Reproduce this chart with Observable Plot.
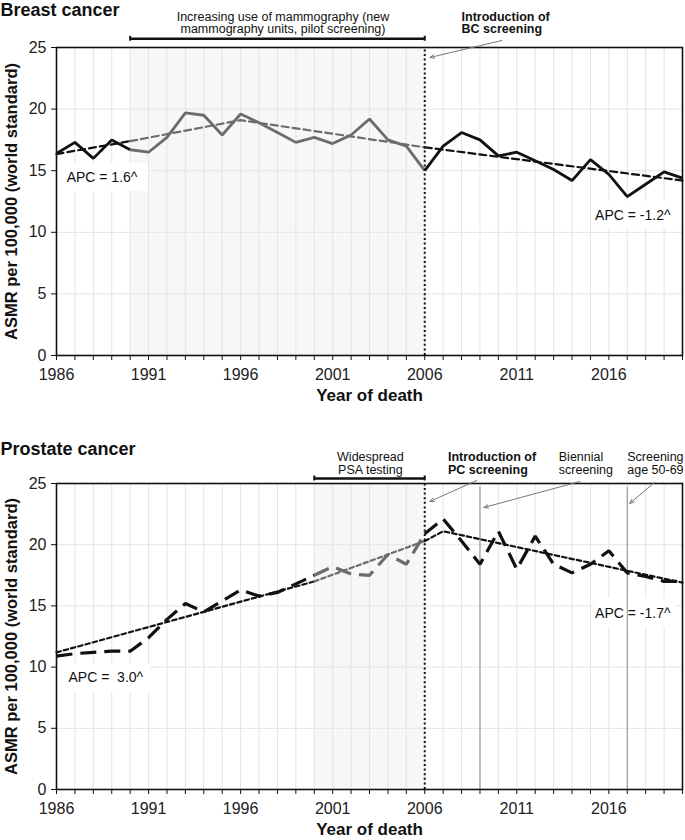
<!DOCTYPE html>
<html>
<head>
<meta charset="utf-8">
<script src="https://cdn.jsdelivr.net/npm/d3@7"></script>
<script src="https://cdn.jsdelivr.net/npm/@observablehq/plot@0.6"></script>
<style>
  html, body { margin: 0; padding: 0; background: #fff; }
  svg { display: block; }
</style>
</head>
<body>
<div id="chart"></div>
<script>
// ---------- data ----------
const years = [1986,1987,1988,1989,1990,1991,1992,1993,1994,1995,1996,1997,1998,1999,2000,
  2001,2002,2003,2004,2005,2006,2007,2008,2009,2010,2011,2012,2013,2014,2015,2016,2017,2018,2019,2020];

const breastASMR = [16.4,17.3,16.0,17.5,16.7,16.5,17.7,19.7,19.5,17.9,19.6,18.9,18.1,17.3,17.7,
  17.2,17.9,19.2,17.5,17.0,15.0,17.0,18.1,17.5,16.2,16.5,15.8,15.1,14.2,15.9,14.7,12.9,13.9,14.9,14.4];

const prostateASMR = [10.9,11.1,11.2,11.3,11.3,12.4,13.9,15.2,14.5,15.4,16.3,15.8,16.1,16.8,17.5,
  18.2,17.6,17.5,19.2,18.4,20.9,22.1,20.3,18.4,21.1,18.0,20.7,18.4,17.7,18.4,19.5,17.7,17.4,17.0,17.0];

const breastTrendYears = [1986, 1990, 1996, 2006, 2020];
const breastTrendValues = [16.35, 17.4, 19.1, 16.9, 14.2];
const prostateTrendYears = [1986, 2000, 2006, 2007, 2020];
const prostateTrendValues = [11.2, 17.0, 20.3, 21.1, 16.9];

const xTickLabels = [1986, 1991, 1996, 2001, 2006, 2011, 2016];
const yTicks = [0, 5, 10, 15, 20, 25];

const breastBand = [1990, 2006];
const prostateBand = [2000, 2006];

const breastTitle = "Breast cancer";
const prostateTitle = "Prostate cancer";
const yTitle = "ASMR per 100,000 (world standard)";
const xTitle = "Year of death";

const breastBandLabel = "Increasing use of mammography (new\nmammography units, pilot screening)";
const breastIntroLabel = "Introduction of\nBC screening";
const prostateBandLabel = "Widespread\nPSA testing";
const prostateIntroLabel = "Introduction of\nPC screening";
const prostateBiennialLabel = "Biennial\nscreening";
const prostateAgeLabel = "Screening\nage 50-69";
const breastAPC = ["APC = 1.6^", "APC = -1.2^"];
const prostateAPC = ["APC =  3.0^", "APC = -1.7^"];

// ---------- helpers ----------
const ink = "#111111";
const grey = "#6c6c6c";
const FONT = "'Liberation Sans', Arial, Helvetica, sans-serif";

function pts(xs, ys) { return xs.map((x, i) => ({year: x, value: ys[i]})); }
function between(arr, a, b) { return arr.filter(d => d.year >= a && d.year <= b); }

function chart(cfg) {
  const data = pts(years, cfg.values);
  const trend = pts(cfg.trendYears, cfg.trendValues);
  const [b0, b1] = cfg.band;
  const segs = [
    {a: 1986, b: b0, c: ink},
    {a: b0, b: b1, c: grey},
    {a: b1, b: 2020, c: ink}
  ];
  const marks = [
    Plot.rect([cfg.band], {x1: d => d[0], x2: d => d[1], y1: 0, y2: 25, fill: "#f7f7f7"}),
    Plot.gridX(years, {stroke: "#e4e4e4", strokeOpacity: 1, strokeWidth: 1}),
    Plot.gridY(yTicks, {stroke: "#e4e4e4", strokeOpacity: 1, strokeWidth: 1}),
    Plot.rect(cfg.boxes, {x1: "x1", x2: "x2", y1: "y1", y2: "y2", fill: "white"}),
    ...cfg.extraRules,
    Plot.ruleX([b1], {y1: 0, y2: 25, stroke: ink, strokeWidth: 2, strokeDasharray: "2,2.6"}),
  ];
  for (const s of segs) {
    marks.push(Plot.line(between(trend, s.a, s.b), {x: "year", y: "value", stroke: s.c,
      strokeWidth: 2.2, strokeDasharray: cfg.trendDash}));
  }
  for (const s of segs) {
    marks.push(Plot.line(between(data, s.a, s.b), {x: "year", y: "value", stroke: s.c,
      strokeWidth: cfg.lineWidth, strokeDasharray: cfg.lineDash, strokeLinejoin: "miter", strokeLinecap: "butt"}));
  }
  marks.push(
    Plot.frame({stroke: ink, strokeWidth: 1.6}),
    Plot.axisX({ticks: years, tickSize: 5, tickPadding: 8, stroke: ink,
      tickFormat: d => xTickLabels.includes(d) ? String(d) : "", fontSize: 16, fill: "#222", label: null}),
    Plot.axisY({ticks: yTicks, tickSize: 5, tickPadding: 5, stroke: ink, fontSize: 16, fill: "#222", label: null}),
    Plot.text([cfg.title], {frameAnchor: "top-left", dx: -56, dy: cfg.titleDy, textAnchor: "start",
      lineAnchor: "middle", fontWeight: "bold", fontSize: 18, fill: ink}),
    Plot.text([yTitle], {frameAnchor: "left", dx: -45, rotate: -90, textAnchor: "middle",
      lineAnchor: "middle", fontWeight: "bold", fontSize: 16.5, fill: ink}),
    Plot.text([xTitle], {frameAnchor: "bottom", dy: cfg.xTitleDy, textAnchor: "middle",
      lineAnchor: "middle", fontWeight: "bold", fontSize: 17, fill: ink}),
    // band bar
    Plot.ruleY([cfg.bar.y], {x1: b0, x2: b1, stroke: ink, strokeWidth: 2.6}),
    Plot.ruleX(cfg.band, {y1: cfg.bar.y - 0.2, y2: cfg.bar.y + 0.2, stroke: ink, strokeWidth: 2}),
    Plot.arrow(cfg.arrows, {x1: d => d[0], y1: d => d[1], x2: d => d[2], y2: d => d[3],
      stroke: "#777", strokeWidth: 1, headLength: 7, headAngle: 45}),
  );
  for (const n of cfg.notes) {
    marks.push(Plot.text([n.text], {x: n.x, y: n.y, textAnchor: n.anchor, lineAnchor: "middle",
      fontSize: n.size || 12.5, lineHeight: 1.0, fontWeight: n.bold ? "bold" : "normal", fill: ink}));
  }
  return Plot.plot({
    width: 685,
    height: cfg.height,
    marginTop: cfg.marginTop,
    marginBottom: cfg.marginBottom,
    marginLeft: 56,
    marginRight: 3,
    x: {domain: [1986, 2020]},
    y: {domain: [0, 25]},
    style: {fontFamily: FONT, fontSize: "16px", color: ink, background: "white"},
    marks
  });
}

const breastChart = chart({
  values: breastASMR,
  trendYears: breastTrendYears, trendValues: breastTrendValues,
  band: breastBand,
  title: breastTitle,
  height: 415, marginTop: 47, marginBottom: 60,
  titleDy: -37, xTitleDy: 40,
  lineWidth: 2.8, lineDash: null, trendDash: "7,4",
  extraRules: [],
  bar: {y: 25.71},
  boxes: [
    {x1: 1986, x2: 1991, y1: 13.3, y2: 15.6},
    {x1: 2015.2, x2: 2019.7, y1: 10.3, y2: 12.5}
  ],
  arrows: [[2010.19, 25.57, 2006.28, 24.19]],
  notes: [
    {text: breastBandLabel, x: 1998.3, y: 27.0, anchor: "middle"},
    {text: breastIntroLabel, x: 2008.0, y: 27.0, anchor: "start", bold: true},
    {text: breastAPC[0], x: 1986.55, y: 14.47, anchor: "start", size: 14},
    {text: breastAPC[1], x: 2019.35, y: 11.36, anchor: "end", size: 14}
  ]
});

const prostateChart = chart({
  values: prostateASMR,
  trendYears: prostateTrendYears, trendValues: prostateTrendValues,
  band: prostateBand,
  title: prostateTitle,
  height: 425, marginTop: 68, marginBottom: 51,
  titleDy: -34, xTitleDy: 40,
  lineWidth: 3.2, lineDash: "16,8", trendDash: "4.5,3",
  extraRules: [Plot.ruleX([2009, 2017], {y1: 0, y2: 24.7, stroke: "#8a8a8a", strokeWidth: 1})],
  bar: {y: 25.41},
  boxes: [
    {x1: 1986, x2: 1991.1, y1: 7.9, y2: 10.3},
    {x1: 2015.2, x2: 2019.7, y1: 13.2, y2: 15.6}
  ],
  arrows: [
    [2008.83, 25.25, 2006.28, 23.53],
    [2014.42, 25.16, 2009.21, 23.04],
    [2018.48, 25.08, 2017.13, 23.37]
  ],
  notes: [
    {text: prostateBandLabel, x: 2003.05, y: 26.63, anchor: "middle"},
    {text: prostateIntroLabel, x: 2007.26, y: 26.63, anchor: "start", bold: true},
    {text: prostateBiennialLabel, x: 2013.28, y: 26.63, anchor: "start"},
    {text: prostateAgeLabel, x: 2017.0, y: 26.63, anchor: "start"},
    {text: prostateAPC[0], x: 1986.65, y: 9.15, anchor: "start", size: 14},
    {text: prostateAPC[1], x: 2019.35, y: 14.38, anchor: "end", size: 14}
  ]
});

document.getElementById("chart").append(breastChart, prostateChart);
</script>
</body>
</html>
